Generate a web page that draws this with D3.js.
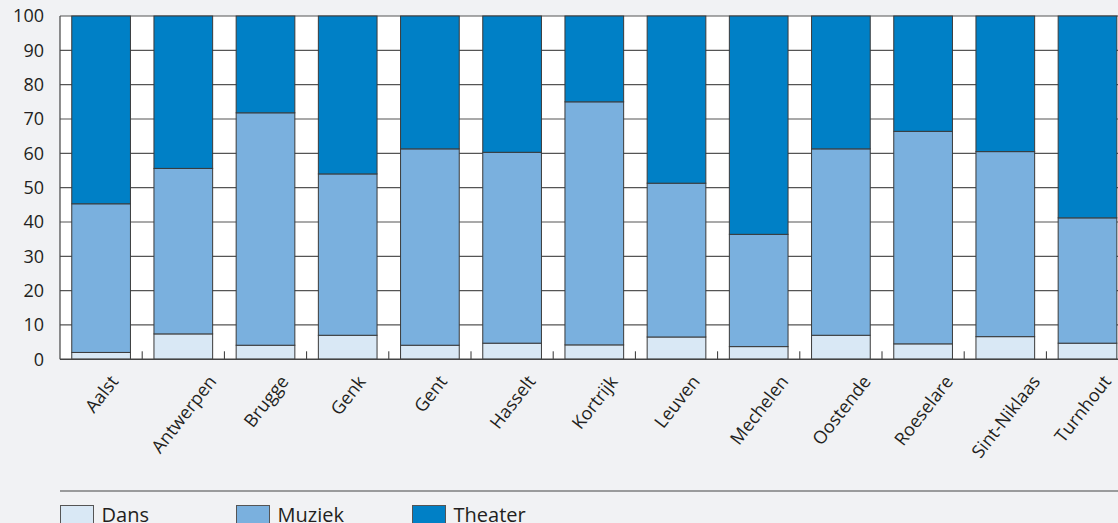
<!DOCTYPE html>
<html>
<head>
<meta charset="utf-8">
<script src="https://cdn.jsdelivr.net/npm/d3@7"></script>
<style>
    html, body { margin: 0; padding: 0; background: #f1f2f4; }
    svg { display: block; font-family: "Open Sans", "Noto Sans", sans-serif; }
</style>
</head>
<body>
<div id="chart"></div>
<script>
(function(){
    'use strict';

    var cities = ["Aalst", "Antwerpen", "Brugge", "Genk", "Gent", "Hasselt", "Kortrijk",
        "Leuven", "Mechelen", "Oostende", "Roeselare", "Sint-Niklaas", "Turnhout"];
    var dans    = [2.0, 7.4, 4.1, 7.0, 4.1, 4.7, 4.2, 6.5, 3.7, 7.0, 4.5, 6.6, 4.7];
    var muziek  = [43.3, 48.2, 67.7, 47.0, 57.2, 55.6, 70.8, 44.8, 32.7, 54.3, 61.9, 53.9, 36.5];
    var theater = [54.7, 44.4, 28.2, 46.0, 38.7, 39.7, 25.0, 48.7, 63.6, 38.7, 33.6, 39.5, 58.8];
    var seriesNames = ["Dans", "Muziek", "Theater"];
    var seriesColors = ["#d9e8f5", "#7ab0de", "#0080c6"];
    var yTicks = [0, 10, 20, 30, 40, 50, 60, 70, 80, 90, 100];

    var width = 1118, height = 523,
        left = 60, right = 1128.6, top = 16, bottom = 359.3,
        labelTop = 370;

    var rows = cities.map(function(c, i) {
        return { city: c, Dans: dans[i], Muziek: muziek[i], Theater: theater[i] };
    });
    var stacked = d3.stack().keys(seriesNames)(rows);

    var svg = d3.select("#chart").append("svg")
        .attr("width", width)
        .attr("height", height);

    var x = d3.scaleBand()
        .domain(cities)
        .range([left, right])
        .paddingInner(0.286)
        .paddingOuter(0.143);

    var y = d3.scaleLinear()
        .domain([0, 100])
        .range([bottom, top]);

    var color = d3.scaleOrdinal().domain(seriesNames).range(seriesColors);

    // plot background
    svg.append("rect")
        .attr("x", left).attr("y", top)
        .attr("width", right - left).attr("height", bottom - top)
        .attr("fill", "#fff");

    // gridlines
    svg.append("g").selectAll("line").data(yTicks.slice(1))
        .enter().append("line")
        .attr("x1", left).attr("x2", right)
        .attr("y1", function(d) { return y(d); })
        .attr("y2", function(d) { return y(d); })
        .attr("stroke", "#555")
        .attr("stroke-width", 1.2);

    // bars
    svg.append("g").selectAll("g").data(stacked)
        .enter().append("g")
        .attr("fill", function(d) { return color(d.key); })
        .selectAll("rect").data(function(d) { return d; })
        .enter().append("rect")
        .attr("x", function(d) { return x(d.data.city); })
        .attr("y", function(d) { return y(d[1]); })
        .attr("width", x.bandwidth())
        .attr("height", function(d) { return y(d[0]) - y(d[1]); })
        .attr("stroke", "#3a3a3a")
        .attr("stroke-width", 1);

    // left frame
    svg.append("line")
        .attr("x1", left).attr("x2", left)
        .attr("y1", top).attr("y2", bottom)
        .attr("stroke", "#444").attr("stroke-width", 1.2);

    // small ticks between categories
    var bounds = cities.slice(1).map(function(c) {
        return x(c) - x.step() * x.paddingInner() / 2;
    });
    svg.append("g").selectAll("line").data(bounds)
        .enter().append("line")
        .attr("x1", function(d) { return d; })
        .attr("x2", function(d) { return d; })
        .attr("y1", bottom).attr("y2", bottom - 8)
        .attr("stroke", "#333").attr("stroke-width", 1);

    // baseline
    svg.append("line")
        .attr("x1", left).attr("x2", right)
        .attr("y1", bottom).attr("y2", bottom)
        .attr("stroke", "#444").attr("stroke-width", 1.5);

    // y axis labels
    svg.append("g").selectAll("text").data(yTicks)
        .enter().append("text")
        .attr("x", 44)
        .attr("y", function(d) { return y(d); })
        .attr("dy", "0.36em")
        .attr("text-anchor", "end")
        .attr("font-size", 18)
        .attr("fill", "#231f20")
        .text(function(d) { return d; });

    // x labels: rotated, box centred under the bar, tops on one line
    svg.append("g").selectAll("text").data(cities)
        .enter().append("text")
        .attr("text-anchor", "end")
        .attr("font-size", 18)
        .attr("fill", "#231f20")
        .attr("transform", function(d) {
            return "translate(" + (x(d) + x.bandwidth() / 2) + "," + labelTop + ") rotate(-52)";
        })
        .text(function(d) { return d; })
        .each(function(d) {
            var r = this.getBoundingClientRect();
            var cx = x(d) + x.bandwidth() / 2;
            var shift = cx - (r.left + r.width / 2);
            if (r.right + shift > width - 2) shift = width - 2 - r.right;
            var tx = cx + shift;
            var ty = labelTop + (labelTop - r.top);
            d3.select(this).attr("transform", "translate(" + tx + "," + ty + ") rotate(-52)");
        });

    // legend rule
    svg.append("line")
        .attr("x1", 60).attr("x2", width)
        .attr("y1", 491).attr("y2", 491)
        .attr("stroke", "#444").attr("stroke-width", 1.2);

    var legend = svg.append("g").selectAll("g").data(seriesNames)
        .enter().append("g")
        .attr("transform", function(d, i) { return "translate(" + (60.5 + i * 176) + ",505.5)"; });

    legend.append("rect")
        .attr("width", 33).attr("height", 20)
        .attr("fill", function(d) { return color(d); })
        .attr("stroke", "#555").attr("stroke-width", 1);

    legend.append("text")
        .attr("x", 41).attr("y", 16)
        .attr("font-size", 20)
        .attr("fill", "#231f20")
        .text(function(d) { return d; });
})()
</script>
</body>
</html>
